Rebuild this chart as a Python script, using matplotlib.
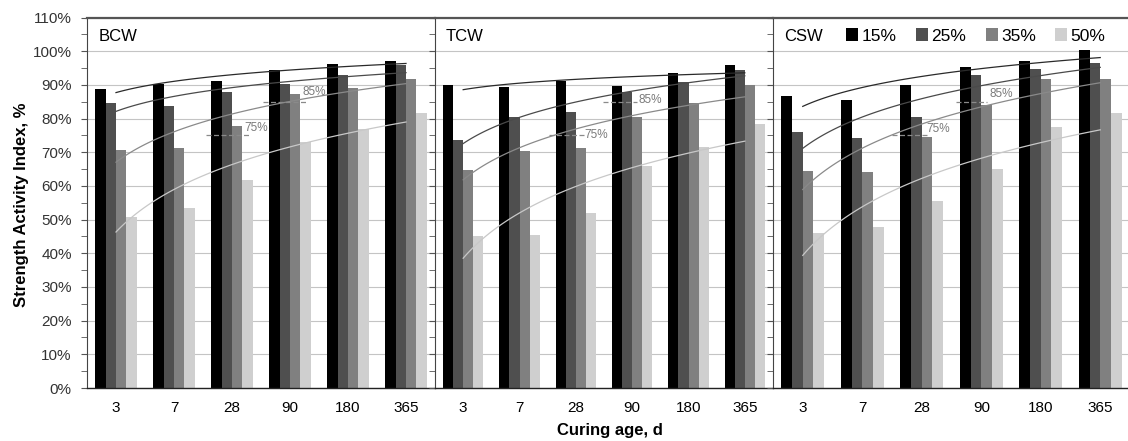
import matplotlib.pyplot as plt
import numpy as np

plt.rcParams['font.family'] = ['Liberation Sans', 'DejaVu Sans']

# --- data ---
ages = ["3", "7", "28", "90", "180", "365"]
series = ["15%", "25%", "35%", "50%"]
panels = ["BCW", "TCW", "CSW"]

bcw_15 = [88.8, 90.4, 91.0, 94.4, 96.3, 97.1]
bcw_25 = [84.5, 83.7, 88.0, 90.2, 92.8, 95.8]
bcw_35 = [70.7, 71.3, 77.8, 87.4, 89.1, 91.6]
bcw_50 = [50.9, 53.5, 61.9, 73.1, 76.9, 81.5]

tcw_15 = [90.0, 89.4, 91.1, 89.8, 93.6, 95.9]
tcw_25 = [73.7, 80.5, 81.8, 88.0, 90.8, 94.5]
tcw_35 = [64.6, 70.3, 71.3, 80.6, 84.6, 89.9]
tcw_50 = [45.2, 45.5, 52.1, 65.9, 71.6, 78.5]

csw_15 = [86.7, 85.5, 90.1, 95.2, 97.0, 100.4]
csw_25 = [76.1, 74.2, 80.6, 93.0, 94.7, 96.6]
csw_35 = [64.3, 64.0, 74.5, 83.9, 91.7, 91.6]
csw_50 = [45.9, 47.8, 55.6, 64.9, 77.4, 81.5]

panel_data = {
    "BCW": [bcw_15, bcw_25, bcw_35, bcw_50],
    "TCW": [tcw_15, tcw_25, tcw_35, tcw_50],
    "CSW": [csw_15, csw_25, csw_35, csw_50],
}

bar_colors = ["#000000", "#4f4f4f", "#808080", "#cfcfcf"]
trend_colors = ["#2a2a2a", "#4a4a4a", "#8a8a8a", "#c8c8c8"]

# label positions (category units, percent) for the 75% / 85% marks
mark_pos = {
    "BCW": [(1.56, 2.32, 75, 2.41, 77.2, "75%"), (2.54, 3.31, 85, 3.42, 87.8, "85%")],
    "TCW": [(1.52, 2.14, 75, 2.36, 75.0, "75%"), (2.49, 3.09, 85, 3.32, 85.4, "85%")],
    "CSW": [(1.50, 2.13, 75, 2.27, 76.8, "75%"), (2.58, 3.10, 85, 3.33, 87.4, "85%")],
}

W, H = 1128, 441
fig = plt.figure(figsize=(W / 100, H / 100), dpi=100)

# axes boxes in pixels: left, width
boxes = [(87, 348), (435, 338), (773, 357)]
bottom_px, top_px = 388, 17.5

x = np.arange(len(ages))
bw = 0.18
offs = (np.arange(4) - 1.5) * bw

for k, name in enumerate(panels):
    l, w = boxes[k]
    ax = fig.add_axes([l / W, 1 - bottom_px / H, w / W, (bottom_px - top_px) / H])
    data = panel_data[name]

    ax.set_ylim(0, 110)
    ax.set_xlim(-0.5, 5.5)
    ax.set_yticks(np.arange(0, 111, 10))
    ax.set_yticks(np.arange(5, 110, 10), minor=True)
    ax.yaxis.grid(True, color="#c4c4c4", linewidth=0.8)
    ax.set_axisbelow(True)

    for i, vals in enumerate(data):
        ax.bar(x + offs[i], vals, width=bw, color=bar_colors[i],
               edgecolor="none", label=series[i], zorder=2)

    # logarithmic trend lines (like Excel) over category index 1..6
    xx = np.linspace(1, 6, 100)
    for i, vals in enumerate(data):
        b, a = np.polyfit(np.log(np.arange(1, 7)), vals, 1)
        ax.plot(xx - 1, a + b * np.log(xx), color=trend_colors[i],
                linewidth=0.9, zorder=3)

    for x0, x1, yv, tx, ty, lab in mark_pos[name]:
        ax.plot([x0, x1], [yv, yv], color="#8a8a8a", linestyle=(0, (4, 2)),
                linewidth=0.9, zorder=3)
        ax.text(tx, ty, lab, color="#7a7a7a", fontsize=8.5,
                ha="center", va="center", zorder=4)

    ax.text(0.032, 0.95, name, transform=ax.transAxes, fontsize=12,
            ha="left", va="center")

    ax.set_xticks(x)
    ax.set_xticklabels(ages, fontsize=11)
    ax.tick_params(axis="x", length=0, pad=9)
    ax.tick_params(axis="y", which="both", length=4, color="#555555",
                   direction="out", pad=7)
    if k == 0:
        ax.set_yticklabels([f"{v}%" for v in range(0, 111, 10)],
                           fontsize=11, color="#333333")
    else:
        ax.set_yticklabels([])

    ax.spines["right"].set_visible(False)
    ax.spines["top"].set_color("#555555")
    ax.spines["top"].set_linewidth(1.6)
    ax.spines["left"].set_color("#444444")
    ax.spines["bottom"].set_color("#222222")
    ax.spines["bottom"].set_linewidth(1.0)

    if name == "CSW":
        ax.legend(loc="center left", bbox_to_anchor=(0.205, 0.95), ncol=4,
                  frameon=False, fontsize=12.5, handlelength=0.7,
                  handleheight=0.7, handletextpad=0.2, columnspacing=1.1,
                  borderpad=0, borderaxespad=0)

fig.text(22 / W, 1 - 205 / H, "Strength Activity Index, %", rotation=90,
         fontsize=12, fontweight="bold", ha="center", va="center")
fig.text(610 / W, 1 - 430 / H, "Curing age, d", fontsize=12,
         fontweight="bold", ha="center", va="center")

fig.savefig("out.png", dpi=100)
